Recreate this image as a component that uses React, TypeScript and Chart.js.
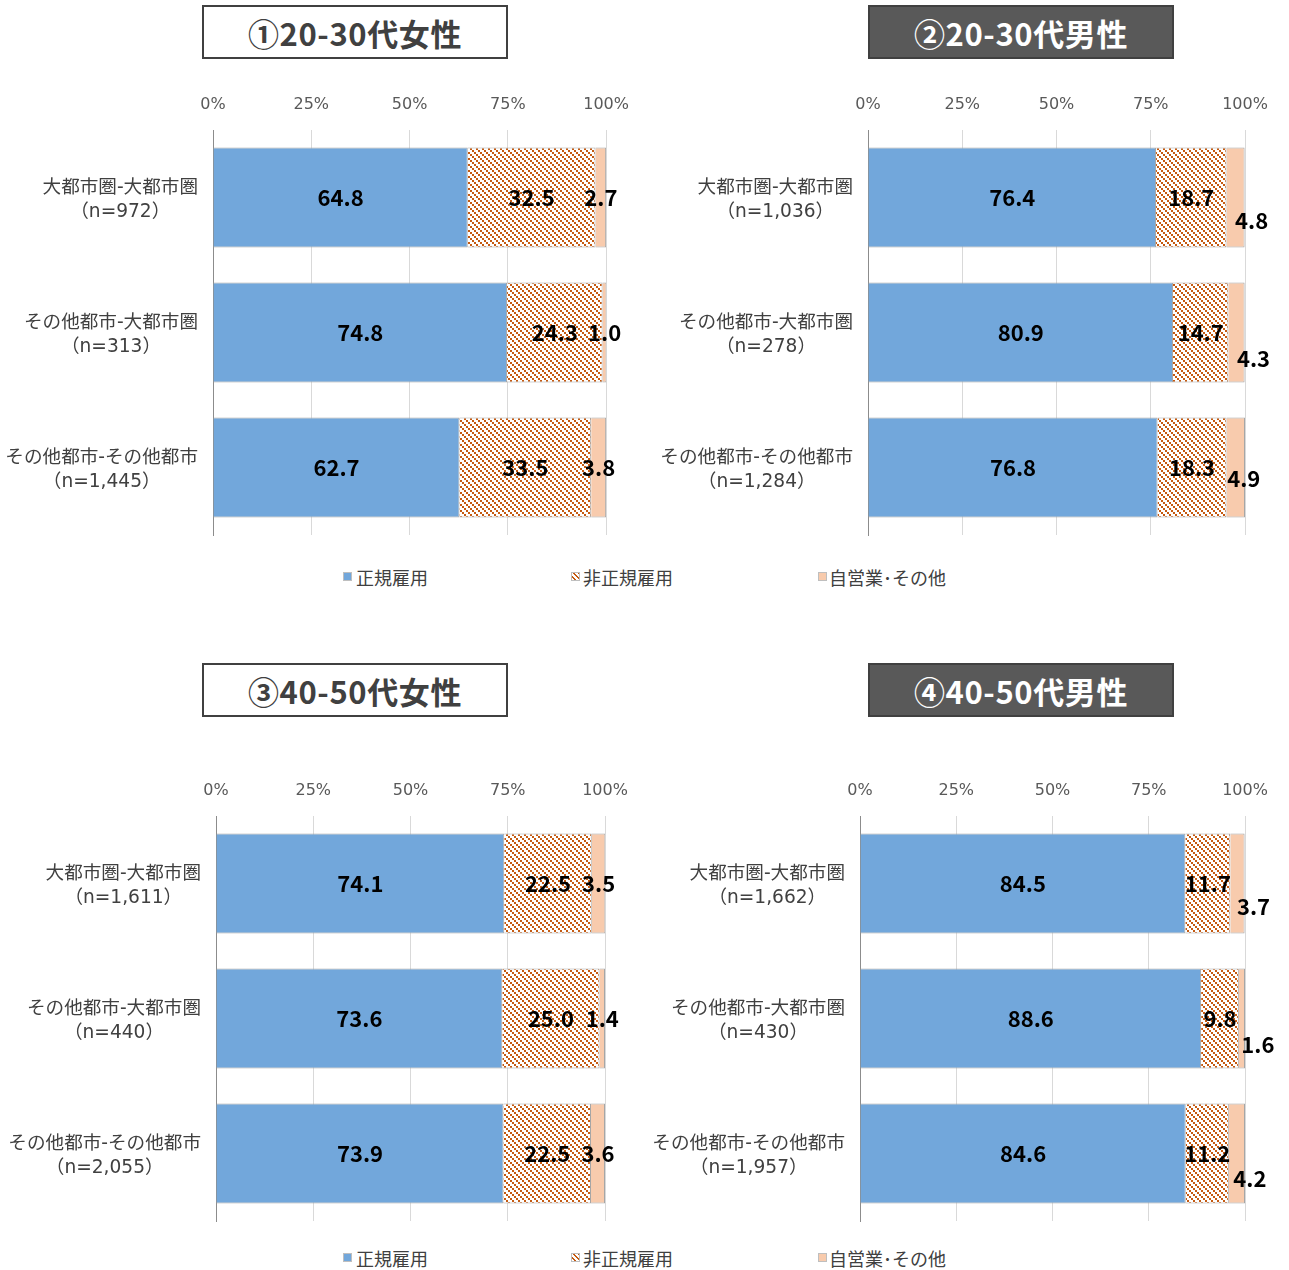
import React, { useEffect, useRef } from "react";
import { Chart, registerables } from "chart.js";
Chart.register(...registerables);

const FONT = '"Noto Sans CJK JP", "Noto Sans", sans-serif';
const FONT_LATIN = '"DejaVu Sans", "Noto Sans CJK JP", sans-serif';

const seriesNames = ["正規雇用", "非正規雇用", "自営業･その他"];
const xTicks = [0, 25, 50, 75, 100];

const titles = ["①20-30代女性", "②20-30代男性", "③40-50代女性", "④40-50代男性"];

const cats1 = [["大都市圏-大都市圏", "（n=972）"], ["その他都市-大都市圏", "（n=313）"], ["その他都市-その他都市", "（n=1,445）"]];
const cats2 = [["大都市圏-大都市圏", "（n=1,036）"], ["その他都市-大都市圏", "（n=278）"], ["その他都市-その他都市", "（n=1,284）"]];
const cats3 = [["大都市圏-大都市圏", "（n=1,611）"], ["その他都市-大都市圏", "（n=440）"], ["その他都市-その他都市", "（n=2,055）"]];
const cats4 = [["大都市圏-大都市圏", "（n=1,662）"], ["その他都市-大都市圏", "（n=430）"], ["その他都市-その他都市", "（n=1,957）"]];

const regular1 = [64.8, 74.8, 62.7];
const nonRegular1 = [32.5, 24.3, 33.5];
const selfEmp1 = [2.7, 1.0, 3.8];

const regular2 = [76.4, 80.9, 76.8];
const nonRegular2 = [18.7, 14.7, 18.3];
const selfEmp2 = [4.8, 4.3, 4.9];

const regular3 = [74.1, 73.6, 73.9];
const nonRegular3 = [22.5, 25.0, 22.5];
const selfEmp3 = [3.5, 1.4, 3.6];

const regular4 = [84.5, 88.6, 84.6];
const nonRegular4 = [11.7, 9.8, 11.2];
const selfEmp4 = [3.7, 1.6, 4.2];

// label nudges for the small third-series labels (style only)
const nudge0 = [[0, 0], [0, 0], [0, 0]];
const nudge2 = [[16, 23], [17, 26], [8, 11]];
const nudge4 = [[16, 23], [16, 26], [13, 25]];

const BLUE = "#72a7db";
const ORANGE = "#f8cbad";
const HATCH = "#c55a11";
const EDGE = "#a6a6a6";

type PanelProps = {
  cats: string[][];
  series: number[][];
  nudges: number[][];
  left: number; width: number;
  plotLeft: number; plotRight: number; plotTop: number; plotBottom: number;
};

function makeHatch(ctx: CanvasRenderingContext2D) {
  const c = document.createElement("canvas");
  c.width = 6; c.height = 6;
  const g = c.getContext("2d")!;
  g.fillStyle = "#ffffff";
  g.fillRect(0, 0, 6, 6);
  g.fillStyle = HATCH;
  for (let i = 0; i < 6; i += 2) {
    g.fillRect(i, i, 2, 2);
  }
  return ctx.createPattern(c, "repeat")!;
}

function Panel(p: PanelProps) {
  const ref = useRef<HTMLCanvasElement>(null);
  const top = p.plotTop - 50;
  const height = p.plotBottom - top + 12;
  useEffect(() => {
    const canvas = ref.current!;
    const ctx = canvas.getContext("2d")!;
    const hatch = makeHatch(ctx);
    const labelPlugin = {
      id: "labels",
      afterDatasetsDraw(chart: any) {
        const c = chart.ctx;
        c.save();
        c.font = `bold 22px ${FONT}`;
        c.fillStyle = "#000";
        c.textAlign = "center";
        c.textBaseline = "middle";
        chart.data.datasets.forEach((ds: any, di: number) => {
          const meta = chart.getDatasetMeta(di);
          meta.data.forEach((bar: any, i: number) => {
            const v = ds.data[i];
            let x = (bar.x + bar.base) / 2;
            let y = bar.y;
            if (di === 2) { x += p.nudges[i][0]; y += p.nudges[i][1]; }
            c.fillText(v.toFixed(1), x, y + 0.5);
          });
        });
        c.restore();
      },
      afterDraw(chart: any) {
        const c = chart.ctx;
        const ys = chart.scales.y;
        c.save();
        c.font = `18.6px ${FONT_LATIN}`;
        c.fillStyle = "#404040";
        c.textAlign = "center";
        c.textBaseline = "middle";
        p.cats.forEach((lines, i) => {
          const yc = ys.getPixelForValue(i) + 2.5;
          const maxW = Math.max(...lines.map((l) => c.measureText(l).width));
          const xc = ys.right - 15 - maxW / 2;
          const lh = 24.5;
          lines.forEach((l, k) => {
            c.fillText(l, xc, yc + (k - (lines.length - 1) / 2) * lh);
          });
        });
        c.restore();
      },
    };
    const chart = new Chart(canvas, {
      type: "bar",
      data: {
        labels: p.cats.map((c) => c.join(" ")),
        datasets: [
          { label: seriesNames[0], data: p.series[0], backgroundColor: BLUE, borderColor: EDGE, borderWidth: 1, barPercentage: 100 / 135, categoryPercentage: 1 },
          { label: seriesNames[1], data: p.series[1], backgroundColor: hatch, borderColor: EDGE, borderWidth: 1, barPercentage: 100 / 135, categoryPercentage: 1 },
          { label: seriesNames[2], data: p.series[2], backgroundColor: ORANGE, borderColor: EDGE, borderWidth: 1, barPercentage: 100 / 135, categoryPercentage: 1 },
        ],
      },
      options: {
        animation: false,
        responsive: false,
        indexAxis: "y",
        layout: { padding: { left: 0, top: 0, right: p.left + p.width - p.plotRight, bottom: top + height - p.plotBottom } },
        plugins: { legend: { display: false }, tooltip: { enabled: false } },
        scales: {
          x: {
            position: "top",
            stacked: true,
            min: 0,
            max: 100,
            afterBuildTicks: (s: any) => { s.ticks = xTicks.map((v) => ({ value: v })); },
            afterFit: (s: any) => { s.height = p.plotTop - top; },
            ticks: { callback: (v: any) => v + "%", font: { family: FONT_LATIN, size: 16 }, color: "#595959", padding: 16, maxRotation: 0 },
            grid: { color: "#d9d9d9", lineWidth: 1, drawTicks: false },
            border: { display: false },
          },
          y: {
            stacked: true,
            afterFit: (s: any) => { s.width = p.plotLeft - p.left; },
            ticks: { display: false },
            grid: { color: "rgba(0,0,0,0)", drawTicks: false },
            border: { display: true, color: "#8c8c8c", width: 1 },
          },
        },
      } as any,
      plugins: [labelPlugin],
    });
    return () => chart.destroy();
  }, []);
  return (
    <canvas
      ref={ref}
      width={p.width}
      height={height}
      style={{ position: "absolute", left: p.left, top, width: p.width, height }}
    />
  );
}

function TitleBox({ text, left, top, dark }: { text: string; left: number; top: number; dark: boolean }) {
  return (
    <div
      style={{
        position: "absolute", left, top, width: 306, height: 54, boxSizing: "border-box",
        border: "2px solid #404040", background: dark ? "#595959" : "#ffffff",
        color: dark ? "#ffffff" : "#404040", fontFamily: FONT, fontWeight: 700, fontSize: 31,
        letterSpacing: "0.6px",
        display: "flex", alignItems: "center", justifyContent: "center", lineHeight: 1,
      }}
    >
      {text}
    </div>
  );
}

function Legend({ top }: { top: number }) {
  const items = [
    { x: 343, tx: 356, bg: BLUE },
    { x: 571, tx: 583, bg: `repeating-linear-gradient(45deg, #ffffff 0px, #ffffff 2px, ${HATCH} 2px, ${HATCH} 3.5px)` },
    { x: 818, tx: 829, bg: ORANGE },
  ];
  return (
    <>
      {items.map((it, i) => (
        <React.Fragment key={i}>
          <div style={{ position: "absolute", left: it.x, top: top - 5, width: 9, height: 9, boxSizing: "border-box", background: it.bg, border: "1px solid #bfbfbf" }} />
          <div style={{ position: "absolute", left: it.tx, top: top - 13, height: 26, lineHeight: "26px", fontFamily: FONT, fontSize: 18, color: "#404040", whiteSpace: "nowrap" }}>
            {seriesNames[i]}
          </div>
        </React.Fragment>
      ))}
    </>
  );
}

export default function App() {
  return (
    <div style={{ position: "absolute", left: 0, top: 0, width: 1289, height: 1270, background: "#fff", overflow: "hidden" }}>
      <TitleBox text={titles[0]} left={202} top={5} dark={false} />
      <TitleBox text={titles[1]} left={868} top={5} dark={true} />
      <TitleBox text={titles[2]} left={202} top={663} dark={false} />
      <TitleBox text={titles[3]} left={868} top={663} dark={true} />
      <Panel cats={cats1} series={[regular1, nonRegular1, selfEmp1]} nudges={nudge0} left={0} width={645} plotLeft={213} plotRight={607} plotTop={130} plotBottom={535} />
      <Panel cats={cats2} series={[regular2, nonRegular2, selfEmp2]} nudges={nudge2} left={645} width={644} plotLeft={868} plotRight={1245} plotTop={130} plotBottom={535} />
      <Panel cats={cats3} series={[regular3, nonRegular3, selfEmp3]} nudges={nudge0} left={0} width={645} plotLeft={216} plotRight={605} plotTop={816} plotBottom={1221} />
      <Panel cats={cats4} series={[regular4, nonRegular4, selfEmp4]} nudges={nudge4} left={645} width={644} plotLeft={860} plotRight={1245} plotTop={816} plotBottom={1221} />
      <Legend top={577} />
      <Legend top={1258} />
    </div>
  );
}
